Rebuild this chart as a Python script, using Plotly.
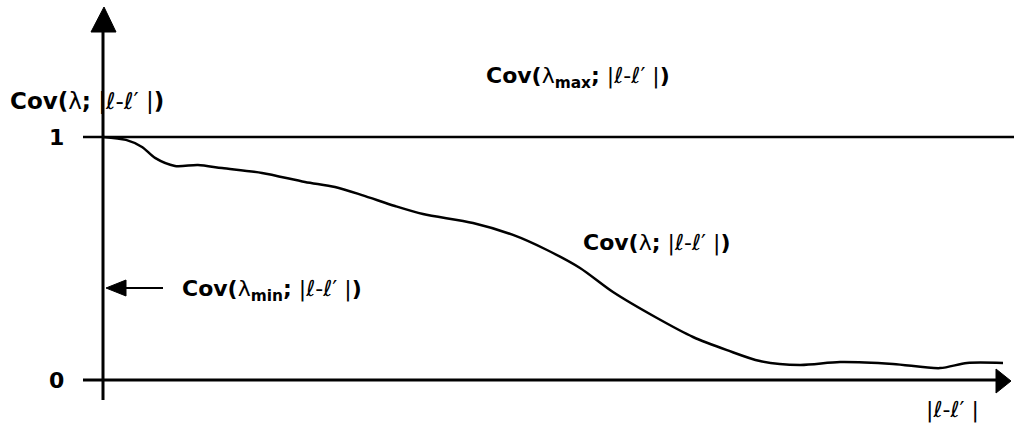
import plotly.graph_objects as go

# curve: distance |l-l'| (arbitrary units) and covariance
lag = [0.0, 0.23, 0.39, 0.52, 0.72, 0.95, 1.19, 1.59, 2.02, 2.32, 2.59, 2.92,
       3.20, 3.70, 4.10, 4.44, 4.77, 5.10, 5.54, 5.90, 6.24, 6.57, 6.97, 7.37,
       7.90, 8.37, 8.64, 9.00]
cov = [1.0, 0.988, 0.959, 0.914, 0.881, 0.885, 0.872, 0.852, 0.815, 0.794,
       0.761, 0.716, 0.683, 0.646, 0.597, 0.535, 0.461, 0.362, 0.255, 0.177,
       0.123, 0.078, 0.062, 0.074, 0.066, 0.049, 0.070, 0.070]
ytick_vals = [0, 1]
ytick_text = ["0", "1"]

W, H = 1014, 425
X0, XS = 103, 100.0      # pixel of x=0, pixels per unit
Y0, YS = 380, 243.0      # pixel of y=0, pixels per unit


def dx(px):
    return (px - X0) / XS


def dy(py):
    return (Y0 - py) / YS


FONT = "DejaVu Sans, sans-serif"
LAG = "|ℓ-ℓ′ |"
LBL = f"<b>Cov(</b>λ<b>;</b> {LAG}<b>)</b>"

fig = go.Figure()
fig.add_trace(go.Scatter(x=lag, y=cov, mode="lines",
                         line=dict(color="black", width=2.5, shape="spline", smoothing=0.8),
                         hoverinfo="skip", showlegend=False))

shapes = [
    # y axis
    dict(type="line", x0=dx(X0), x1=dx(X0), y0=dy(400), y1=dy(30), line=dict(color="black", width=3)),
    dict(type="path", path=f"M {dx(91)} {dy(32)} L {dx(116)} {dy(32)} L {dx(104)} {dy(7)} Z",
         fillcolor="black", line=dict(color="black", width=1)),
    # x axis
    dict(type="line", x0=dx(83), x1=dx(998), y0=0, y1=0, line=dict(color="black", width=3)),
    dict(type="path", path=f"M {dx(996)} {dy(369)} L {dx(996)} {dy(393)} L {dx(1011)} {dy(381)} Z",
         fillcolor="black", line=dict(color="black", width=1)),
    # cov(lambda_max) level
    dict(type="line", x0=dx(83), x1=dx(1014), y0=1, y1=1, line=dict(color="black", width=2.5)),
    # cov(lambda_min) pointer
    dict(type="line", x0=dx(115), x1=dx(163), y0=dy(288), y1=dy(288), line=dict(color="black", width=2)),
    dict(type="path", path=f"M {dx(126)} {dy(280)} L {dx(126)} {dy(296)} L {dx(106)} {dy(288)} Z",
         fillcolor="black", line=dict(color="black", width=1)),
]

ann = [
    dict(x=dx(8), y=dy(101), text=LBL, size=23),
    dict(x=dx(484), y=dy(77), text=f"<b>Cov(</b>λ<sub><b>max</b></sub><b>;</b> {LAG}<b>)</b>", size=22),
    dict(x=dx(581), y=dy(243), text=LBL, size=22),
    dict(x=dx(180), y=dy(290), text=f"<b>Cov(</b>λ<sub><b>min</b></sub><b>;</b> {LAG}<b>)</b>", size=22),
    dict(x=dx(924), y=dy(410), text=LAG, size=22),
]
for v, t in zip(ytick_vals, ytick_text):
    ann.append(dict(x=dx(66), y=v, text=f"<b>{t}</b>", size=22, xanchor="right"))
for a in ann:
    size = a.pop("size")
    a.setdefault("xanchor", "left")
    a.update(xref="x", yref="y", showarrow=False, font=dict(family=FONT, size=size, color="black"))

fig.update_layout(
    width=W, height=H, margin=dict(l=0, r=0, t=0, b=0),
    plot_bgcolor="white", paper_bgcolor="white",
    xaxis=dict(range=[dx(0), dx(W)], visible=False, fixedrange=True),
    yaxis=dict(range=[dy(H), dy(0)], visible=False, fixedrange=True),
    shapes=shapes, annotations=ann,
)

fig.write_html("out.html", config={"displayModeBar": False},
               post_script="document.body.style.margin='0';")
